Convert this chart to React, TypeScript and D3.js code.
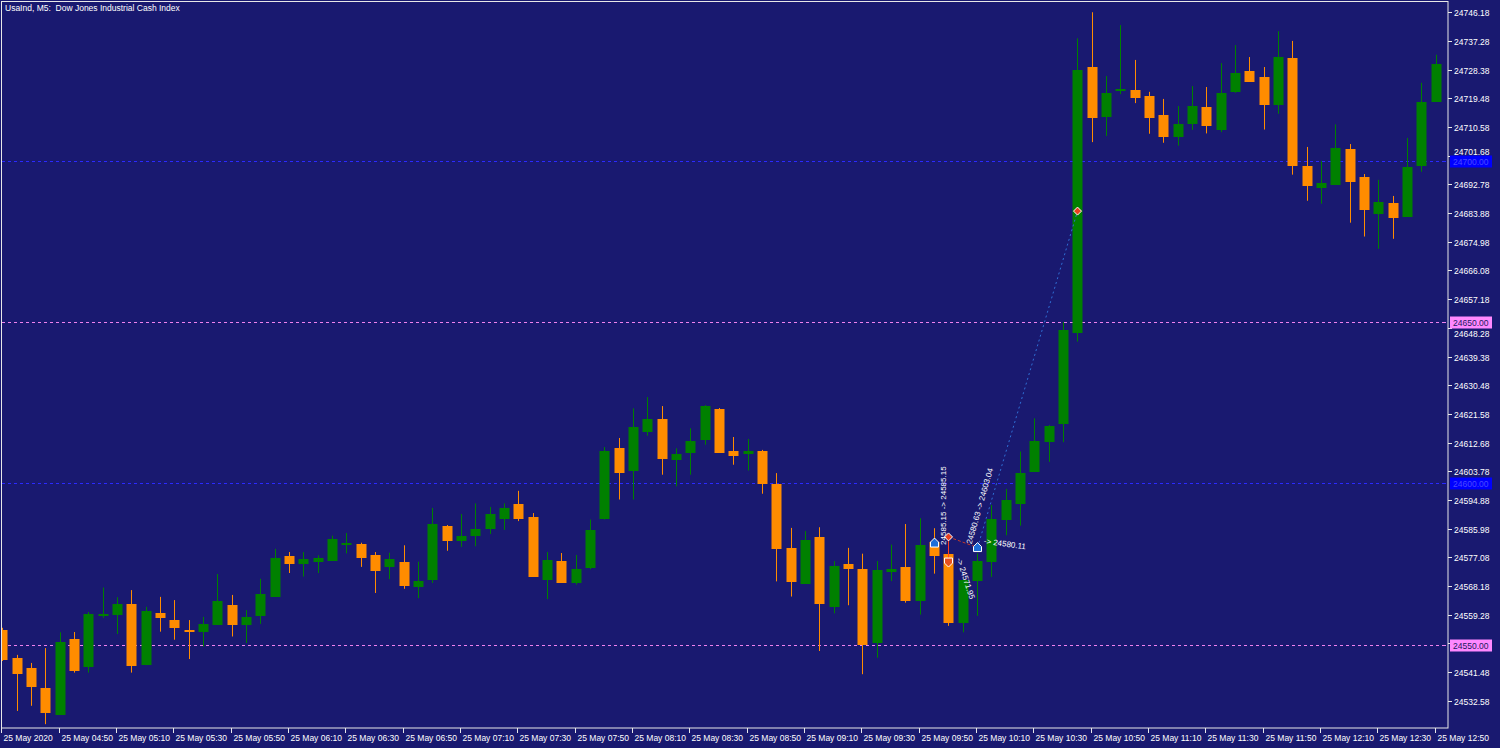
import { useEffect, useRef } from "react"
import * as d3 from "d3"

// M5 bars of UsaInd, 25 May 2020, 04:30 .. 12:50
const opens = [
    24554.5, 24545.7, 24542.6, 24536.5, 24528.6, 24551.8, 24543.4, 24559.2, 24559.4, 24562.7,
    24544.1, 24559.7, 24557.6, 24554.6, 24554.3, 24556.4, 24562.4, 24556.4, 24559.2, 24565.2,
    24577.5, 24575.4, 24576.0, 24576.3, 24581.1, 24581.3, 24577.7, 24574.5, 24575.7, 24568.3,
    24570.4, 24586.8, 24582.5, 24584.1, 24586.3, 24589.4, 24593.6, 24589.6, 24570.4, 24575.8,
    24569.5, 24574.2, 24589.2, 24611.0, 24604.2, 24616.2, 24619.9, 24607.7, 24609.8, 24613.9,
    24623.0, 24610.0, 24609.4, 24610.0, 24599.9, 24580.0, 24569.1, 24583.3, 24562.0, 24575.0,
    24573.4, 24550.9, 24572.9, 24574.2, 24563.9, 24581.9, 24578.0, 24556.9, 24570.0, 24575.8,
    24588.9, 24593.9, 24604.0, 24613.1, 24618.6, 24647.0, 24729.2, 24714.0, 24722.0, 24722.1,
    24720.2, 24714.2, 24707.8, 24711.9, 24716.9, 24710.1, 24721.8, 24728.0, 24726.1, 24717.8,
    24732.0, 24698.4, 24692.1, 24693.0, 24703.9, 24695.1, 24684.0, 24687.0, 24683.1, 24698.9,
    24718.8,
]
const highs = [
    24555.2, 24546.8, 24544.3, 24548.9, 24553.8, 24553.9, 24560.1, 24567.7, 24564.7, 24566.9,
    24561.7, 24564.8, 24563.8, 24557.6, 24558.6, 24571.9, 24565.4, 24560.7, 24570.4, 24579.7,
    24578.7, 24578.7, 24577.7, 24583.8, 24584.6, 24581.6, 24578.7, 24578.5, 24580.8, 24575.7,
    24592.4, 24587.1, 24590.5, 24593.8, 24592.7, 24593.8, 24597.7, 24590.8, 24578.7, 24578.4,
    24577.8, 24588.8, 24611.3, 24614.1, 24623.3, 24626.8, 24624.0, 24610.9, 24617.1, 24624.3,
    24623.4, 24614.4, 24613.8, 24610.4, 24603.2, 24586.2, 24585.2, 24586.4, 24575.9, 24580.0,
    24578.2, 24575.9, 24581.0, 24587.4, 24589.2, 24586.1, 24584.0, 24570.3, 24578.3, 24593.3,
    24598.3, 24609.9, 24620.2, 24618.1, 24650.0, 24738.1, 24746.2, 24726.4, 24742.2, 24731.4,
    24721.5, 24719.3, 24717.1, 24723.3, 24723.0, 24730.4, 24736.0, 24732.3, 24729.2, 24740.3,
    24737.3, 24704.4, 24700.0, 24711.4, 24705.3, 24696.0, 24694.2, 24689.2, 24707.2, 24724.3,
    24733.0,
]
const lows = [
    24544.9, 24529.4, 24531.0, 24525.3, 24528.2, 24541.3, 24541.3, 24558.3, 24553.3, 24541.3,
    24543.6, 24554.0, 24551.5, 24545.5, 24549.4, 24556.1, 24552.5, 24550.5, 24556.4, 24565.1,
    24572.2, 24571.1, 24572.2, 24576.1, 24578.3, 24574.1, 24566.0, 24570.3, 24567.3, 24564.4,
    24569.1, 24579.1, 24580.3, 24580.5, 24584.3, 24585.6, 24588.3, 24571.3, 24564.1, 24569.1,
    24568.6, 24573.4, 24588.8, 24595.0, 24595.0, 24614.8, 24602.7, 24599.1, 24602.7, 24612.0,
    24609.7, 24605.8, 24604.0, 24596.8, 24569.6, 24564.9, 24569.0, 24548.0, 24559.7, 24562.2,
    24540.8, 24545.9, 24569.7, 24563.0, 24559.3, 24572.0, 24555.8, 24553.8, 24558.9, 24571.0,
    24583.9, 24586.9, 24603.8, 24606.7, 24612.8, 24644.0, 24705.9, 24707.8, 24720.8, 24718.0,
    24708.5, 24705.7, 24704.8, 24709.7, 24708.6, 24709.0, 24721.2, 24724.7, 24709.8, 24714.7,
    24695.8, 24687.7, 24686.8, 24692.8, 24680.9, 24676.6, 24672.8, 24675.9, 24682.8, 24696.7,
    24718.5,
]
const closes = [
    24545.5, 24541.3, 24537.2, 24529.2, 24550.7, 24542.1, 24559.6, 24559.6, 24562.6, 24543.6,
    24560.4, 24558.7, 24555.6, 24554.2, 24556.5, 24563.5, 24556.4, 24558.6, 24565.7, 24576.9,
    24575.4, 24576.6, 24576.9, 24582.7, 24581.6, 24577.2, 24573.2, 24576.5, 24568.6, 24569.6,
    24587.4, 24582.5, 24583.8, 24585.8, 24590.5, 24592.4, 24589.4, 24571.4, 24576.2, 24569.4,
    24573.5, 24585.5, 24610.2, 24603.6, 24617.4, 24619.9, 24608.0, 24609.1, 24613.2, 24624.0,
    24609.8, 24608.9, 24610.2, 24600.0, 24580.0, 24569.8, 24582.5, 24563.0, 24574.4, 24573.9,
    24550.2, 24573.2, 24573.4, 24563.8, 24581.0, 24577.7, 24557.1, 24570.0, 24576.0, 24589.1,
    24594.9, 24603.2, 24613.2, 24617.9, 24647.5, 24728.3, 24713.8, 24721.1, 24722.3, 24719.9,
    24713.8, 24707.8, 24711.4, 24717.1, 24711.1, 24721.1, 24727.3, 24725.0, 24717.8, 24732.2,
    24698.9, 24692.7, 24693.2, 24704.1, 24693.9, 24685.1, 24687.2, 24682.8, 24698.1, 24718.4,
    24730.1,
]

const priceTicks = [
    24746.18, 24737.28, 24728.38, 24719.48, 24710.58, 24701.68, 24692.78, 24683.88, 24674.98,
    24666.08, 24657.18, 24648.28, 24639.38, 24630.48, 24621.58, 24612.68, 24603.78, 24594.88,
    24585.98, 24577.08, 24568.18, 24559.28, 24550.38, 24541.48, 24532.58,
]

const timeTickBars = [0, 4, 8, 12, 16, 20, 24, 28, 32, 36, 40, 44, 48, 52, 56, 60, 64, 68, 72, 76, 80, 84, 88, 92, 96, 100]
const timeTickLabels = [
    "25 May 2020", "25 May 04:50", "25 May 05:10", "25 May 05:30", "25 May 05:50", "25 May 06:10",
    "25 May 06:30", "25 May 06:50", "25 May 07:10", "25 May 07:30", "25 May 07:50", "25 May 08:10",
    "25 May 08:30", "25 May 08:50", "25 May 09:10", "25 May 09:30", "25 May 09:50", "25 May 10:10",
    "25 May 10:30", "25 May 10:50", "25 May 11:10", "25 May 11:30", "25 May 11:50", "25 May 12:10",
    "25 May 12:30", "25 May 12:50",
]

// horizontal levels drawn on the chart
const levelPrices = [24700, 24650, 24600, 24550]
const levelKinds = ["blue", "pink", "blue", "pink"]

// trade history arrows
const tradeBars = [65, 66, 66, 68, 75]
const tradePrices = [24581.5, 24583.4, 24575.6, 24580.1, 24684.5]
const tradeKinds = ["buy", "sell", "sellArrow", "buy", "close"]

const title = "UsaInd, M5:  Dow Jones Industrial Cash Index"

export default function App() {
    const svgRef = useRef<SVGSVGElement>(null)
    const width = 1500
    const height = 748

    useEffect(() => {
        document.body.style.margin = "0"
        const font = "'Liberation Sans', Arial, sans-serif"
        const bg = "#191970"
        const bull = "#008000"
        const bear = "#ff8c00"
        const frameRight = 1448
        const frameBottom = 728

        const x = d3.scaleLinear().domain([0, 100]).range([2.4, 1435.7])
        const y = d3.scaleLinear().domain([24532.58, 24746.18]).range([700.7, 12.3])

        const svg = d3.select(svgRef.current)
        svg.selectAll("*").remove()

        svg.append("rect").attr("width", width).attr("height", height).attr("fill", bg)

        svg.append("defs").append("clipPath").attr("id", "plot")
            .append("rect").attr("x", 2).attr("y", 2).attr("width", frameRight - 2).attr("height", frameBottom - 2)

        // levels
        const lv = svg.append("g")
        levelPrices.forEach((p, k) => {
            const yy = Math.round(y(p)) + 0.5
            const col = levelKinds[k] === "blue" ? "#2a2aff" : "#ee82ee"
            lv.append("line")
                .attr("x1", 2).attr("x2", frameRight).attr("y1", yy).attr("y2", yy)
                .attr("stroke", col).attr("stroke-width", 1).attr("stroke-dasharray", "3,3")
        })

        // candles
        const idx = d3.range(opens.length)
        const g = svg.append("g").attr("clip-path", "url(#plot)")
        idx.forEach(i => {
            const up = closes[i] >= opens[i]
            const col = up ? bull : bear
            const cx = Math.round(x(i)) + 0.5
            g.append("line")
                .attr("x1", cx).attr("x2", cx)
                .attr("y1", y(highs[i])).attr("y2", y(lows[i]))
                .attr("stroke", col).attr("stroke-width", 1)
            const top = Math.round(y(Math.max(opens[i], closes[i]))) + 0.5
            const bot = Math.round(y(Math.min(opens[i], closes[i]))) + 0.5
            g.append("rect")
                .attr("x", cx - 4.5).attr("width", 9)
                .attr("y", top).attr("height", Math.max(bot - top, 1))
                .attr("fill", col).attr("stroke", col).attr("stroke-width", 1)
        })

        // trades
        const tr = svg.append("g")
        const tx = (k: number) => Math.round(x(tradeBars[k])) + 0.5
        const ty = (k: number) => y(tradePrices[k])
        tr.append("line")
            .attr("x1", tx(3)).attr("y1", ty(3)).attr("x2", tx(4)).attr("y2", ty(4))
            .attr("stroke", "#2f6fd6").attr("stroke-width", 1).attr("stroke-dasharray", "2,3")
        tr.append("line")
            .attr("x1", tx(1)).attr("y1", ty(1)).attr("x2", tx(3)).attr("y2", ty(3))
            .attr("stroke", "#c0392b").attr("stroke-width", 1).attr("stroke-dasharray", "3,2")
        tr.append("line")
            .attr("x1", tx(1)).attr("y1", ty(1)).attr("x2", tx(2)).attr("y2", ty(2))
            .attr("stroke", "#ff4020").attr("stroke-width", 1)
        tradeKinds.forEach((kind, k) => {
            const px = tx(k), py = ty(k)
            let d = ""
            let fill = "#1e6fd9"
            if (kind === "buy") d = `M${px},${py - 5} L${px + 4},${py - 1} L${px + 4},${py + 4} L${px - 4},${py + 4} L${px - 4},${py - 1} Z`
            else if (kind === "sellArrow") { d = `M${px},${py + 5} L${px + 4},${py + 1} L${px + 4},${py - 4} L${px - 4},${py - 4} L${px - 4},${py + 1} Z`; fill = "#e8501e" }
            else { d = `M${px},${py + 4} L${px + 4},${py} L${px},${py - 4} L${px - 4},${py} Z`; fill = "#e8401e" }
            tr.append("path").attr("d", d).attr("fill", fill).attr("stroke", "#ffffff").attr("stroke-width", 1)
        })
        const notes: [number, number, number, string][] = [
            [tx(1) - 3, ty(1) + 8, -90, "24585.15 -> 24585.15"],
            [tx(3) - 6, ty(3) - 3, -74, "24580.63 -> 24603.04"],
            [tx(3) + 6, ty(3) - 4, 8, "-> 24580.11"],
            [tx(1) + 8, ty(1) + 22, 72, "-> 24571.95"],
        ]
        notes.forEach(([nx, ny, rot, t]) => {
            tr.append("text")
                .attr("transform", `translate(${nx},${ny}) rotate(${rot})`)
                .attr("fill", "#ffffff").attr("font-family", font).attr("font-size", 8)
                .text(t)
        })

        // frame
        svg.append("rect")
            .attr("x", 1.5).attr("y", 1.5).attr("width", frameRight - 1.5).attr("height", frameBottom - 1.5)
            .attr("fill", "none").attr("stroke", "#e8e8e8").attr("stroke-width", 1)

        // price axis: a label next to a level box is nudged away from it, as the terminal does
        const ax = svg.append("g")
        priceTicks.forEach(p => {
            const yy = Math.round(y(p)) + 0.5
            ax.append("line").attr("x1", frameRight).attr("x2", frameRight + 4).attr("y1", yy).attr("y2", yy)
                .attr("stroke", "#e8e8e8")
            const near = levelPrices.find(l => Math.abs(y(l) - y(p)) < 7)
            let ly = yy + 3
            if (near !== undefined && Math.abs(y(near) - y(p)) > 2) ly = p > near ? yy - 2 : yy + 8
            ax.append("text")
                .attr("x", frameRight + 6).attr("y", ly)
                .attr("fill", "#ffffff").attr("font-family", font).attr("font-size", 8.5)
                .text(p.toFixed(2))
        })
        levelPrices.forEach((p, k) => {
            const yy = Math.round(y(p)) + 0.5
            const blue = levelKinds[k] === "blue"
            ax.append("rect")
                .attr("x", frameRight + 2).attr("y", yy - 6).attr("width", 42).attr("height", 12)
                .attr("fill", blue ? "#0000ff" : "#ff88ff")
            ax.append("line").attr("x1", frameRight - 5).attr("x2", frameRight - 2).attr("y1", yy).attr("y2", yy)
                .attr("stroke", blue ? "#2a2aff" : "#ee82ee")
            ax.append("text")
                .attr("x", frameRight + 5).attr("y", yy + 3)
                .attr("fill", blue ? "#4a4aff" : "#1a1a60").attr("font-family", font).attr("font-size", 8.5)
                .text(p.toFixed(2))
        })

        // time axis
        timeTickBars.forEach((b, k) => {
            const xx = Math.round(x(b)) - 0.5
            svg.append("line").attr("x1", xx).attr("x2", xx).attr("y1", frameBottom).attr("y2", frameBottom + 5)
                .attr("stroke", "#e8e8e8")
            svg.append("text")
                .attr("x", xx + 2).attr("y", frameBottom + 13)
                .attr("fill", "#ffffff").attr("font-family", font).attr("font-size", 8.5)
                .text(timeTickLabels[k])
        })

        svg.append("text")
            .attr("x", 5).attr("y", 11)
            .attr("fill", "#ffffff").attr("font-family", font).attr("font-size", 8.5)
            .style("white-space", "pre")
            .text(title)
    }, [])

    return <svg ref={svgRef} width={width} height={height} style={{ display: "block" }}></svg>
}
